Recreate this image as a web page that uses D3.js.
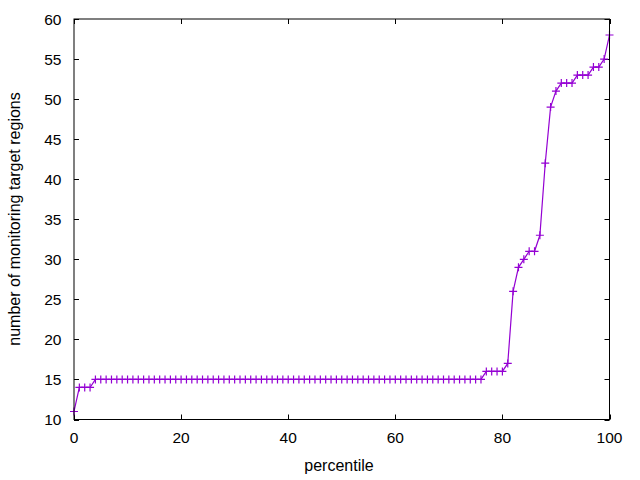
<!DOCTYPE html>
<html><head><meta charset="utf-8">
<script src="https://cdn.jsdelivr.net/npm/d3@7"></script>
<style>body{margin:0;background:#fff}svg{display:block}</style>
</head><body>
<svg id="c" width="640" height="480"></svg>
<script>
const percentiles = d3.range(0, 101);
const regions = [11,14,14,14,
  15,15,15,15,15,15,15,15,15,15,15,15,15,15,15,15,15,15,15,15,15,15,15,15,15,15,15,15,15,15,15,15,15,15,15,15,
  15,15,15,15,15,15,15,15,15,15,15,15,15,15,15,15,15,15,15,15,15,15,15,15,15,15,15,15,15,15,15,15,15,15,15,15,15,
  16,16,16,16,17,26,29,30,31,31,33,42,49,51,52,52,52,53,53,53,54,54,55,58];
const xTicks = [0,20,40,60,80,100];
const yTicks = [10,15,20,25,30,35,40,45,50,55,60];
const xLabel = "percentile";
const yLabel = "number of monitoring target regions";

const data = percentiles.map((p,i)=>({x:p,y:regions[i]}));
const svg = d3.select("#c");
const L=74, R=609.5, T=19, B=419.5;
const x = d3.scaleLinear().domain([0,100]).range([L,R]);
const y = d3.scaleLinear().domain([10,60]).range([B,T]);
const font = "Liberation Sans, Arial, sans-serif";
const tk = 5;
const fsT = 15.5, fsL = 16;

const g = svg.append("g").attr("stroke","#000").attr("stroke-width",1);
xTicks.forEach(v=>{
  const px = Math.round(x(v))+0.5;
  g.append("line").attr("x1",px).attr("x2",px).attr("y1",B).attr("y2",B-tk);
  g.append("line").attr("x1",px).attr("x2",px).attr("y1",T).attr("y2",T+tk);
});
yTicks.forEach(v=>{
  const py = Math.round(y(v))+0.5;
  g.append("line").attr("x1",L).attr("x2",L+tk).attr("y1",py).attr("y2",py);
  g.append("line").attr("x1",R).attr("x2",R-tk).attr("y1",py).attr("y2",py);
});

svg.selectAll("text.xt").data(xTicks).enter().append("text")
  .attr("x",d=>x(d)).attr("y",443).attr("text-anchor","middle")
  .attr("font-family",font).attr("font-size",fsT).text(d=>d);
svg.selectAll("text.yt").data(yTicks).enter().append("text")
  .attr("x",61.5).attr("y",d=>y(d)+5.5).attr("text-anchor","end")
  .attr("font-family",font).attr("font-size",fsT).text(d=>d);

svg.append("text").attr("x",339).attr("y",470.5).attr("text-anchor","middle")
  .attr("font-family",font).attr("font-size",fsL).text(xLabel);
svg.append("text").attr("transform","translate(20,219) rotate(-90)").attr("text-anchor","middle")
  .attr("font-family",font).attr("font-size",fsL).text(yLabel);

const color = "#9400d3";
svg.append("path").datum(data)
  .attr("d", d3.line().x(d=>x(d.x)).y(d=>y(d.y)))
  .attr("fill","none").attr("stroke",color).attr("stroke-width",1.2);
const s = 4;
svg.append("g").selectAll("path").data(data).enter().append("path")
  .attr("d",d=>{const cx=x(d.x), cy=y(d.y);return `M${cx-s},${cy}H${cx+s}M${cx},${cy-s}V${cy+s}`;})
  .attr("stroke",color).attr("stroke-width",1.2).attr("fill","none");

svg.append("rect").attr("x",L).attr("y",T).attr("width",R-L).attr("height",B-T)
  .attr("fill","none").attr("stroke","#000").attr("stroke-width",1);
</script>
</body></html>
